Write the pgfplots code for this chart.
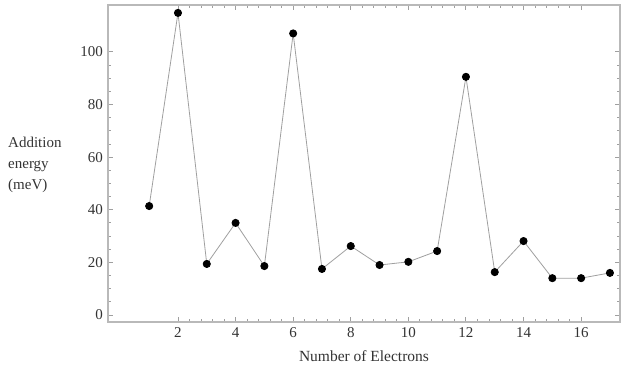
\documentclass[border=0pt]{standalone}
\usepackage{fontspec}
\setmainfont{Liberation Serif}
\usepackage{pgfplots}
\pgfplotsset{compat=1.18}
\begin{document}
\fontsize{15}{21}\selectfont
\begin{tikzpicture}[x=1pt,y=1pt]
\begin{axis}[
  at={(108pt,46pt)}, anchor=south west,
  scale only axis, width=512pt, height=317pt,
  xmin=-0.43, xmax=17.35, ymin=-2.66, ymax=117.8,
  xtick={2,4,...,16}, ytick={0,20,...,100},
  minor x tick num=4, minor y tick num=3,
  tick align=inside, major tick length=5pt, minor tick length=3pt,
  axis line style={draw=gray!55, line width=1.6pt},
  every tick/.style={draw=gray!75, line width=0.9pt},
  tick label style={font=\fontsize{15}{18}\selectfont, text=black!80},
  /pgf/number format/assume math mode=true,
  xlabel={Number of Electrons},
  xlabel style={font=\fontsize{15.5}{18}\selectfont, text=black!80, yshift=-3pt},
]
\addplot[draw=gray!75, line width=0.8pt, mark=*, mark size=3.6pt,
  mark options={draw=black, fill=black}] coordinates {
  (1,41.4) (2,114.8) (3,19.4) (4,35) (5,18.6) (6,107) (7,17.5) (8,26.2)
  (9,19) (10,20.2) (11,24.3) (12,90.5) (13,16.3) (14,28.1) (15,14)
  (16,14) (17,16)
};
\end{axis}
\node[anchor=west, align=left, text=black!80, font=\fontsize{15}{21}\selectfont] at (3pt,203pt) {Addition\\energy\\(meV)};
\pgfresetboundingbox
\useasboundingbox (0,0) rectangle (621,368);
\end{tikzpicture}
\end{document}
